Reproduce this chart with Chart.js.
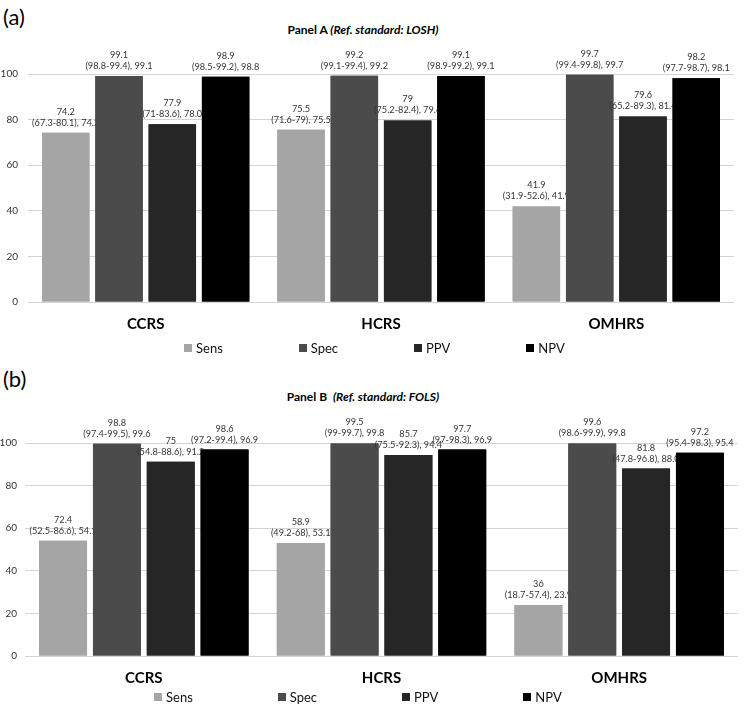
<!DOCTYPE html>
<html>
<head>
<meta charset="utf-8">
<script src="https://cdn.jsdelivr.net/npm/chart.js@4.4.0/dist/chart.umd.min.js"></script>
<style>
  body { margin: 0; background: #fff; font-family: Lato, sans-serif; }
  #page { position: relative; width: 744px; height: 707px; overflow: hidden; }
  canvas { position: absolute; left: 0; }
  .tag { position: absolute; left: 3px; font-size: 22px; line-height: 26px; color: #000; }
  .title { position: absolute; left: 163px; width: 400px; text-align: center; font-size: 12px; line-height: 16px;
           font-weight: bold; color: #000; white-space: pre; }
  .legend { position: absolute; display: flex; align-items: center; height: 16px; font-size: 13px; color: #111; }
  .legend span.item { display: flex; align-items: center; }
  .legend i { display: inline-block; width: 8px; height: 8px; margin-right: 4px; }
</style>
</head>
<body>
<div id="page">
  <div class="tag" style="top:4px">(a)</div>
  <div class="title" style="top:22px">Panel A <i>(Ref. standard: LOSH)</i></div>
  <canvas id="chartA" width="744" height="353" style="top:0"></canvas>
  <div class="legend" id="legendA" style="left:184px; top:340px; gap:76px"></div>

  <div class="tag" style="top:366px">(b)</div>
  <div class="title" style="top:389px">Panel B  <i>(Ref. standard: FOLS)</i></div>
  <canvas id="chartB" width="744" height="347" style="top:360px"></canvas>
  <div class="legend" id="legendB" style="left:154px; top:689px; gap:85px"></div>
</div>
<script>
// 分类与系列
const categories = ['CCRS', 'HCRS', 'OMHRS'];
const seriesNames = ['Sens', 'Spec', 'PPV', 'NPV'];
const seriesColors = ['#a5a5a5', '#4b4b4b', '#262626', '#000000'];
const yTicks = [0, 20, 40, 60, 80, 100];

// Panel A：柱高（每个系列一行，按分类）
const aBars = [
    [74.2, 75.5, 41.9],
    [99.1, 99.2, 99.7],
    [78.0, 79.6, 81.4],
    [98.8, 99.1, 98.1]
];
const aEst = [
    [74.2, 75.5, 41.9],
    [99.1, 99.2, 99.7],
    [77.9, 79, 79.6],
    [98.9, 99.1, 98.2]
];
const aCI = [
    ['67.3-80.1', '71.6-79', '31.9-52.6'],
    ['98.8-99.4', '99.1-99.4', '99.4-99.8'],
    ['71-83.6', '75.2-82.4', '65.2-89.3'],
    ['98.5-99.2', '98.9-99.2', '97.7-98.7']
];

// Panel B
const bBars = [
    [54.1, 53.1, 23.9],
    [99.6, 99.8, 99.8],
    [91.2, 94.4, 88.0],
    [96.9, 96.9, 95.4]
];
const bEst = [
    [72.4, 58.9, 36],
    [98.8, 99.5, 99.6],
    [75, 85.7, 81.8],
    [98.6, 97.7, 97.2]
];
const bCI = [
    ['52.5-86.6', '49.2-68', '18.7-57.4'],
    ['97.4-99.5', '99-99.7', '98.6-99.9'],
    ['54.8-88.6', '75.5-92.3', '47.8-96.8'],
    ['97.2-99.4', '97-98.3', '95.4-98.3']
];

// 柱顶标签：逐个系列重画柱子再写标签，后面的柱子会盖住前面的标签
const barLabels = {
    id: 'barLabels',
    afterDatasetsDraw(chart) {
        const ctx = chart.ctx;
        ctx.save();
        chart.data.datasets.forEach((ds, i) => {
            const meta = chart.getDatasetMeta(i);
            meta.data.forEach(bar => bar.draw(ctx));
            ctx.font = '9.2px Lato';
            ctx.fillStyle = '#333';
            ctx.textAlign = 'center';
            ctx.textBaseline = 'middle';
            meta.data.forEach((bar, j) => {
                ctx.fillText(String(ds.est[j]), bar.x, bar.y - 21);
                ctx.fillText('(' + ds.ci[j] + '), ' + ds.data[j].toFixed(1), bar.x, bar.y - 10);
            });
        });
        ctx.restore();
    }
};

function makeChart(id, bars, est, ci, padding, axisWidth, tickPad) {
    return new Chart(document.getElementById(id), {
        type: 'bar',
        data: {
            labels: categories,
            datasets: seriesNames.map((name, i) => ({
                label: name,
                data: bars[i],
                est: est[i],
                ci: ci[i],
                backgroundColor: seriesColors[i],
                categoryPercentage: 0.906,
                barPercentage: 0.89
            }))
        },
        options: {
            responsive: false,
            animation: false,
            layout: { padding: padding },
            plugins: { legend: { display: false }, tooltip: { enabled: false } },
            scales: {
                x: {
                    grid: { display: false, drawTicks: false },
                    border: { display: false },
                    ticks: { color: '#000', padding: 13, font: { family: 'Lato', size: 15, weight: 'bold' } }
                },
                y: {
                    min: 0,
                    max: 100,
                    afterBuildTicks: s => { s.ticks = yTicks.map(v => ({ value: v })); },
                    afterFit: s => { s.width = axisWidth; },
                    grid: { color: '#d4d4d4', drawTicks: false },
                    border: { display: false },
                    ticks: { color: '#333', padding: tickPad, font: { family: 'Lato', size: 10 } }
                }
            }
        },
        plugins: [barLabels]
    });
}

function makeLegend(id) {
    document.getElementById(id).innerHTML = seriesNames.map((name, i) =>
        `<span class="item"><i style="background:${seriesColors[i]}"></i>${name}</span>`).join('');
}

makeChart('chartA', aBars, aEst, aCI, { top: 74, bottom: 7, left: 0, right: 10 }, 28, 10);
makeChart('chartB', bBars, bEst, bCI, { top: 83, bottom: 7, left: 0, right: 6 }, 25, 8);
makeLegend('legendA');
makeLegend('legendB');
</script>
</body>
</html>
